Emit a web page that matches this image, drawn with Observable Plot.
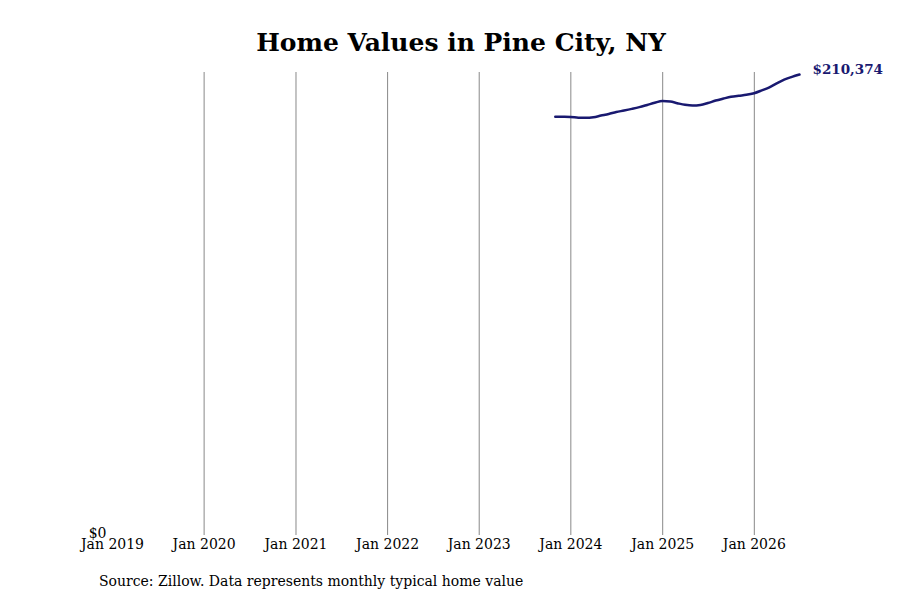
<!DOCTYPE html>
<html>
<head>
<meta charset="utf-8">
<script src="https://cdn.jsdelivr.net/npm/d3@7"></script>
<script src="https://cdn.jsdelivr.net/npm/@observablehq/plot@0.6"></script>
<style>
  html, body { margin: 0; padding: 0; background: #fff; }
  #wrap { position: relative; width: 900px; height: 600px; font-family: "DejaVu Serif", serif; }
  #title { position: absolute; left: 0; width: 922px; top: 28px; text-align: center; font-size: 25px; font-weight: bold; color: #000; }
  #caption { position: absolute; left: 99px; top: 573px; font-size: 14px; color: #000; }
  #chart { position: absolute; left: 0; top: 0; }
</style>
</head>
<body>
<div id="wrap">
  <div id="chart"></div>
  <div id="title">Home Values in Pine City, NY</div>
  <div id="caption">Source: Zillow. Data represents monthly typical home value</div>
</div>
<script>
const dates = [
  "2023-10-31","2023-11-30","2023-12-31",
  "2024-01-31","2024-02-29","2024-03-31","2024-04-30","2024-05-31","2024-06-30",
  "2024-07-31","2024-08-31","2024-09-30","2024-10-31","2024-11-30","2024-12-31",
  "2025-01-31","2025-02-28","2025-03-31","2025-04-30","2025-05-31","2025-06-30",
  "2025-07-31","2025-08-31","2025-09-30","2025-10-31","2025-11-30","2025-12-31",
  "2026-01-31","2026-02-28","2026-03-31","2026-04-30","2026-05-31","2026-06-30"
];
const values = [
  191150, 191100, 191000,
  190700, 190600, 190900, 191650, 192400, 193250,
  193950, 194700, 195500, 196500, 197500, 198300,
  198050, 197300, 196550, 196200, 196450, 197350,
  198500, 199400, 200200, 200700, 201100, 201850,
  203150, 204450, 206350, 208050, 209300, 210374
];
const axisTicks = ["2019-01-01","2020-01-01","2021-01-01","2022-01-01","2023-01-01","2024-01-01","2025-01-01","2026-01-01"];
const gridTicks = ["2020-01-01","2021-01-01","2022-01-01","2023-01-01","2024-01-01","2025-01-01","2026-01-01"];
const yTicks = [0];
const xDomain = ["2019-01-01", "2026-06-30"];
const yDomain = [0, 211300];

const parse = d3.utcParse("%Y-%m-%d");
const data = dates.map((d, i) => ({date: parse(d), value: values[i]}));
const last = data[data.length - 1];
const fmtMoney = d3.format("$,.0f");

const chart = Plot.plot({
  width: 900,
  height: 600,
  marginTop: 72,
  marginBottom: 65,
  marginLeft: 112,
  marginRight: 101,
  style: { fontFamily: "DejaVu Serif, serif", fontSize: "14px", color: "#000", background: "transparent" },
  x: { type: "utc", domain: xDomain.map(parse) },
  y: { domain: yDomain },
  marks: [
    Plot.gridX(gridTicks.map(parse), { stroke: "#888", strokeOpacity: 1, strokeWidth: 1 }),
    Plot.axisX(axisTicks.map(parse), { tickSize: 0, tickPadding: 4, tickFormat: d3.utcFormat("%b %Y"), label: null, fontSize: 14, fill: "#000" }),
    Plot.axisY(yTicks, { tickSize: 0, tickPadding: 6, tickFormat: fmtMoney, label: null, fontSize: 14, fill: "#000", dy: -2 }),
    Plot.line(data, { x: "date", y: "value", stroke: "#191970", strokeWidth: 2.5, curve: "monotone-x" }),
    Plot.text([last], { x: "date", y: "value", text: d => fmtMoney(d.value), textAnchor: "start", dx: 13, dy: -5, fill: "#191970", fontWeight: "bold", fontSize: 13.5 })
  ]
});
document.getElementById("chart").appendChild(chart);
</script>
</body>
</html>
